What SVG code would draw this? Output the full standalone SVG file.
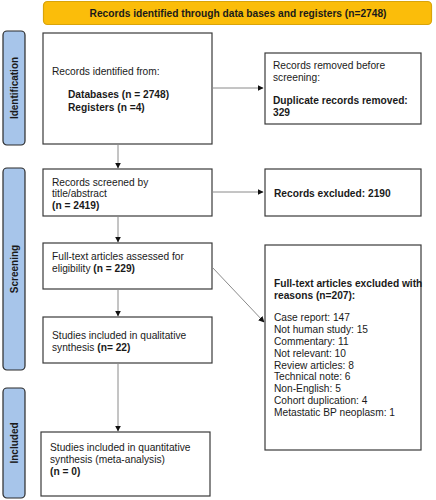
<svg xmlns="http://www.w3.org/2000/svg" width="436" height="500" viewBox="0 0 436 500">
<defs>
<marker id="ah" viewBox="0 0 10 10" refX="9" refY="5" markerWidth="6" markerHeight="6" orient="auto" markerUnits="userSpaceOnUse">
<path d="M0,0 L10,5 L0,10 z" fill="#111"/>
</marker>
<style>
text{font-family:"Liberation Sans",Arial,sans-serif;font-size:10.2px;fill:#1a1a1a}
.b{font-weight:bold}
.box{fill:#fff;stroke:#3a3a3a;stroke-width:1.2}
.side{fill:#a7c5ea;stroke:#2a2a2a;stroke-width:1.2}
.lbl{font-weight:bold;font-size:10px;text-anchor:middle}
.con{stroke:#8a8a8a;stroke-width:1;fill:none;marker-end:url(#ah)}
</style>
</defs>
<rect x="0" y="0" width="436" height="500" fill="#fff"/>
<g id="header">
<rect x="43.5" y="1.5" width="388" height="23" rx="4" fill="#fbbd0a" stroke="#d9a40a" stroke-width="1.2"/>
<text class="b" x="238" y="17" text-anchor="middle">Records identified through data bases and registers (n=2748)</text>
</g>
<g id="side-identification">
<rect class="side" x="3" y="31" width="22" height="114" rx="4"/>
<text class="lbl" transform="translate(17.5,88) rotate(-90)">Identification</text>
</g>
<g id="side-screening">
<rect class="side" x="3" y="168" width="22" height="202" rx="4"/>
<text class="lbl" transform="translate(17.5,269) rotate(-90)">Screening</text>
</g>
<g id="side-included">
<rect class="side" x="3" y="388" width="22" height="110" rx="4"/>
<text class="lbl" transform="translate(17.5,443) rotate(-90)">Included</text>
</g>
<g id="n1">
<rect class="box" x="43" y="33" width="169" height="111"/>
<text x="52" y="75">Records identified from:</text>
<text class="b" x="68" y="98">Databases (n = 2748)</text>
<text class="b" x="68" y="111">Registers (n =4)</text>
</g>
<g id="n2">
<rect class="box" x="265" y="53" width="156" height="71"/>
<text x="273" y="69">Records removed before</text>
<text x="273" y="81">screening:</text>
<text class="b" x="273" y="104">Duplicate records removed:</text>
<text class="b" x="273" y="116">329</text>
</g>
<g id="n3">
<rect class="box" x="43" y="169" width="169" height="47"/>
<text x="52" y="186">Records screened by</text>
<text x="52" y="197">title/abstract</text>
<text class="b" x="52" y="209">(n = 2419)</text>
</g>
<g id="n4">
<rect class="box" x="265" y="169" width="156" height="47"/>
<text class="b" x="274" y="197">Records excluded: 2190</text>
</g>
<g id="n5">
<rect class="box" x="43" y="243" width="169" height="46"/>
<text x="52" y="260">Full-text articles assessed for</text>
<text x="52" y="272">eligibility <tspan class="b">(n = 229)</tspan></text>
</g>
<g id="n6">
<rect class="box" x="265" y="245" width="156" height="205"/>
<text class="b" x="274" y="287">Full-text articles excluded with</text>
<text class="b" x="274" y="299">reasons (n=207):</text>
<text x="274" y="321">Case report: 147</text>
<text x="274" y="333">Not human study: 15</text>
<text x="274" y="345">Commentary: 11</text>
<text x="274" y="357">Not relevant: 10</text>
<text x="274" y="369">Review articles: 8</text>
<text x="274" y="380">Technical note: 6</text>
<text x="274" y="392">Non-English: 5</text>
<text x="274" y="404">Cohort duplication: 4</text>
<text x="274" y="416">Metastatic BP neoplasm: 1</text>
</g>
<g id="n7">
<rect class="box" x="43" y="317" width="169" height="46"/>
<text x="52" y="339">Studies included in qualitative</text>
<text x="52" y="351">synthesis <tspan class="b">(n= 22)</tspan></text>
</g>
<g id="n8">
<rect class="box" x="41" y="432" width="169" height="64"/>
<text x="50" y="451">Studies included in quantitative</text>
<text x="50" y="463">synthesis (meta-analysis)</text>
<text class="b" x="50" y="475">(n = 0)</text>
</g>
<g id="connectors">
<line class="con" x1="212" y1="88" x2="263" y2="88"/>
<line class="con" x1="118" y1="144" x2="118" y2="168"/>
<line class="con" x1="212" y1="192" x2="263" y2="192"/>
<line class="con" x1="118" y1="216" x2="118" y2="242"/>
<line class="con" x1="212" y1="267" x2="264" y2="322"/>
<line class="con" x1="118" y1="289" x2="118" y2="316"/>
<line class="con" x1="118" y1="363" x2="118" y2="431"/>
</g>
</svg>
